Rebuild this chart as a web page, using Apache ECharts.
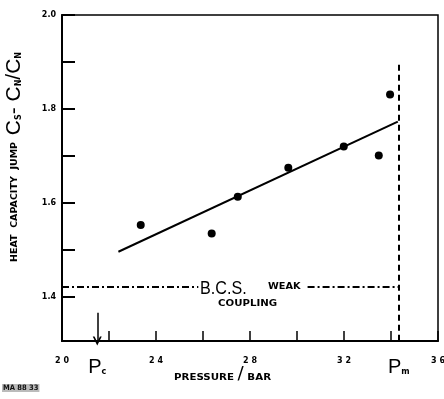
<!DOCTYPE html>
<html>
<head>
<meta charset="utf-8">
<script src="https://cdn.jsdelivr.net/npm/echarts@6/dist/echarts.min.js"></script>
<style>
  html, body { margin: 0; padding: 0; background: #fff; }
  #chart { width: 444px; height: 399px; }
</style>
</head>
<body>
<div id="chart"></div>
<script>
// Measured heat capacity jump versus pressure
const pressure = [23.35, 26.37, 27.48, 29.63, 31.99, 33.48, 33.96];
const heatJump = [1.553, 1.535, 1.613, 1.675, 1.720, 1.701, 1.831];

// Straight-line fit through the measurements
const fitPressure = [22.4, 34.29];
const fitJump = [1.496, 1.773];

// Weak-coupling BCS value and the two marked pressures
const bcsValue = 1.422;
const pcPressure = 21.5;
const pmPressure = 34.33;
const pmLineTop = 1.894;
const pcArrowTop = 1.366;
// break in the BCS line where its label sits
const bcsGap = [25.8, 30.45];

// axis ranges and tick values
const xMin = 20, xMax = 36, xStep = 2;
const yMin = 1.306, yMax = 2.0;
const yTicks = [1.4, 1.5, 1.6, 1.7, 1.8, 1.9, 2.0];
const yTickLabels = [1.4, 1.6, 1.8, 2.0];
const xTickLabels = [20, pcPressure, 24, 28, 32, pmPressure, 36];

const chart = echarts.init(document.getElementById('chart'), null, { renderer: 'canvas' });

const bold = { fontFamily: 'DejaVu Sans', fontWeight: 'bold', color: '#000' };
const thin = 'Liberation Sans';
const dashDot = { color: '#000', width: 2, type: [7, 3, 2, 3] };

chart.setOption({
  animation: false,
  backgroundColor: '#fff',
  grid: {
    left: 62, right: 6, top: 15, bottom: 58,
    containLabel: false,
    outerBoundsMode: 'none',
    show: true, borderColor: '#000', borderWidth: 1.5
  },
  xAxis: {
    type: 'value', min: xMin, max: xMax, interval: xStep,
    axisLine: { lineStyle: { color: '#000', width: 2 } },
    axisTick: { inside: true, length: 10, lineStyle: { color: '#000', width: 1.5 } },
    splitLine: { show: false },
    axisLabel: {
      customValues: xTickLabels,
      margin: 16,
      fontSize: 8, ...bold,
      hideOverlap: false,
      formatter: v => {
        if (Math.abs(v - pcPressure) < 1e-6) return '{p|P}{s|c}';
        if (Math.abs(v - pmPressure) < 1e-6) return '{p|P}{s|m}';
        return String(v).split('').join(' ');
      },
      rich: {
        p: { fontFamily: thin, fontWeight: 'normal', fontSize: 20, color: '#000', verticalAlign: 'bottom', padding: [0, 0, -4, 0] },
        s: { fontFamily: 'DejaVu Sans', fontWeight: 'bold', fontSize: 8, color: '#000', verticalAlign: 'bottom', padding: [0, 0, -3, 0] }
      }
    }
  },
  yAxis: {
    type: 'value', min: yMin, max: yMax,
    axisLine: { lineStyle: { color: '#000', width: 2 } },
    axisTick: { customValues: yTicks, inside: true, length: 13, lineStyle: { color: '#000', width: 2 } },
    splitLine: { show: false },
    axisLabel: {
      customValues: yTickLabels,
      margin: 6, fontSize: 8, ...bold,
      formatter: v => v.toFixed(1)
    },
    name: '{t|HEAT  CAPACITY  JUMP}  {f|C}{s|S}{f|- C}{s|N}{f|/C}{s|N}',
    nameLocation: 'middle',
    nameRotate: 90,
    nameGap: 37,
    nameTextStyle: {
      padding: [0, 0, 0, 42],
      rich: {
        t: { fontFamily: 'DejaVu Sans', fontWeight: 'bold', fontSize: 9.5, color: '#000', verticalAlign: 'middle' },
        f: { fontFamily: thin, fontWeight: 'normal', fontSize: 21, color: '#000', verticalAlign: 'middle' },
        s: { fontFamily: 'DejaVu Sans', fontWeight: 'bold', fontSize: 8, color: '#000', verticalAlign: 'bottom', padding: [0, 0, 2, 0] }
      }
    }
  },
  series: [
    {
      type: 'line',
      data: fitPressure.map((x, i) => [x, fitJump[i]]),
      symbol: 'none',
      lineStyle: { color: '#000', width: 2 },
      z: 3,
      markLine: {
        silent: true,
        symbol: 'none',
        label: { show: false },
        data: [
          [{ coord: [xMin, bcsValue], lineStyle: dashDot }, { coord: [bcsGap[0], bcsValue] }],
          [{ coord: [bcsGap[1], bcsValue], lineStyle: dashDot }, { coord: [pmPressure, bcsValue] }],
          [{ coord: [pmPressure, pmLineTop], lineStyle: { color: '#000', width: 2, type: [6, 4] } },
           { coord: [pmPressure, yMin] }],
          [{ coord: [pcPressure, pcArrowTop], symbol: 'none',
             lineStyle: { color: '#000', width: 1.5, type: 'solid' } },
           { coord: [pcPressure, yMin], symbol: 'path://M0,10 L5,0 L10,10 L8,10 L5,4 L2,10 Z', symbolSize: [9, 9],
             symbolKeepAspect: true }]
        ]
      }
    },
    {
      type: 'scatter',
      data: pressure.map((x, i) => [x, heatJump[i]]),
      symbol: 'circle',
      symbolSize: 8,
      itemStyle: { color: '#000', opacity: 1 },
      z: 4
    }
  ],
  graphic: [
    { type: 'text', left: 200, top: 279, scaleX: 0.85,
      style: { text: 'B.C.S.', fontFamily: thin, fontSize: 19, fill: '#000' } },
    { type: 'text', left: 268, top: 282, scaleX: 1.15,
      style: { text: 'WEAK', fontFamily: 'DejaVu Sans', fontWeight: 'bold', fontSize: 8.5, fill: '#000' } },
    { type: 'text', left: 218, top: 299, scaleX: 1.2,
      style: { text: 'COUPLING', fontFamily: 'DejaVu Sans', fontWeight: 'bold', fontSize: 8.5, fill: '#000' } },
    { type: 'text', left: 174, top: 366, scaleX: 1.08,
      style: {
        text: '{a|PRESSURE} {b|/} {a|BAR}',
        rich: {
          a: { fontFamily: 'DejaVu Sans', fontWeight: 'bold', fontSize: 9.5, fill: '#000', verticalAlign: 'bottom' },
          b: { fontFamily: 'DejaVu Sans', fontSize: 17, fill: '#000', verticalAlign: 'bottom' }
        }
      } },
    { type: 'text', left: 2, top: 384,
      style: { text: 'MA 88 33', fontFamily: 'DejaVu Sans Condensed, DejaVu Sans', fontWeight: 'bold', fontSize: 7.5, fill: '#111',
               backgroundColor: '#bbb', padding: [0, 1, 0, 1] } }
  ]
});
</script>
</body>
</html>
